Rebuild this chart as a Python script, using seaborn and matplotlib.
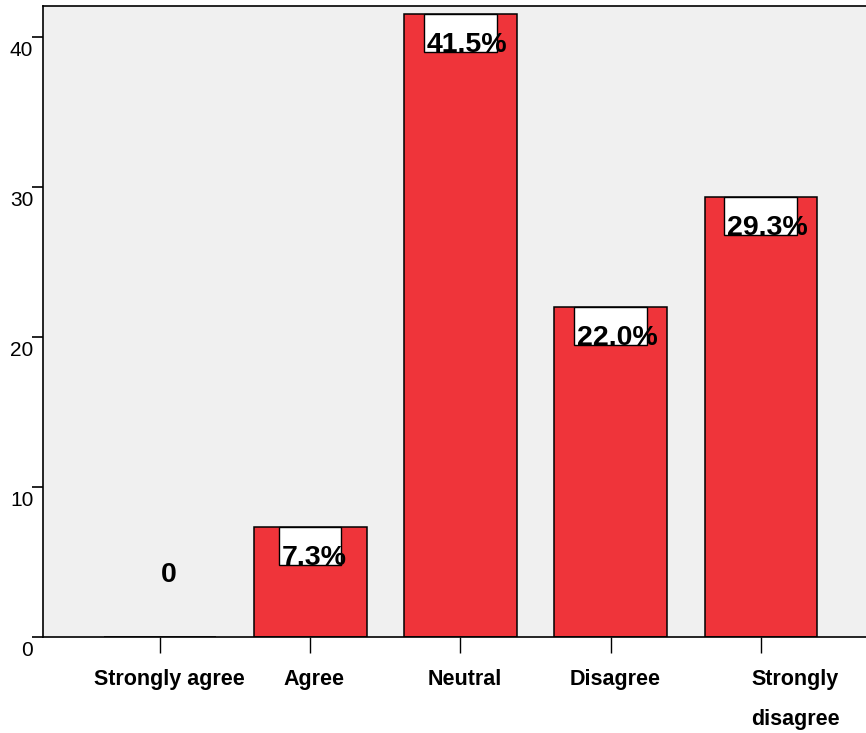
import matplotlib
matplotlib.use("Agg")
import matplotlib.pyplot as plt
import matplotlib.transforms as mtransforms
from matplotlib.patches import Rectangle
import seaborn as sns
import pandas as pd

# Survey responses (percent of respondents)
categories = ["Strongly agree", "Agree", "Neutral", "Disagree", "Strongly disagree"]
tick_labels = ["Strongly agree", "Agree", "Neutral", "Disagree", "Strongly\ndisagree"]
percents = [0.0, 7.3, 41.5, 22.0, 29.3]
y_ticks = [0, 10, 20, 30, 40]

BAR_RED = "#EF343A"
PANEL_GREY = "#F0F0F0"

plt.rcParams["font.family"] = ["Liberation Sans", "DejaVu Sans"]

W, H, DPI = 866, 733, 100
fig = plt.figure(figsize=(W / DPI, H / DPI), dpi=DPI)
fig.patch.set_facecolor("white")

# plot frame in pixels
left_px, right_px, top_px, bottom_px = 43, 866, 6, 636.7
ax = fig.add_axes([left_px / W, 1 - bottom_px / H,
                   (right_px - left_px) / W, (bottom_px - top_px) / H])
ax.set_facecolor(PANEL_GREY)

df = pd.DataFrame({"response": categories, "percent": percents})
sns.barplot(data=df, x="response", y="percent", order=categories,
            color=BAR_RED, saturation=1, width=0.75,
            edgecolor="black", linewidth=1.1, ax=ax)

x_lo, x_hi = -0.778, 4.699
y_hi = 42.05
ax.set_xlim(x_lo, x_hi)
ax.set_ylim(0, y_hi)

# pixels per data unit
xpu = (right_px - left_px) / (x_hi - x_lo)
ypu = (bottom_px - top_px) / y_hi

# value labels: white box hanging from the bar top, bold text overflowing it
for i, v in enumerate(percents):
    if v == 0:
        ax.annotate("0", xy=(i, v), xytext=(9, 62), textcoords="offset pixels",
                    ha="center", va="center", fontsize=20.5, fontweight="bold")
        continue
    text = f"{v:.1f}%"
    box_w = (11 * len(text) + 18) / xpu
    box_h = 38 / ypu
    ax.add_patch(Rectangle((i - box_w / 2, v - box_h), box_w, box_h,
                           facecolor="white", edgecolor="black",
                           linewidth=1.0, zorder=3))
    ax.text(i - box_w / 2 + 3 / xpu, v - box_h, text, ha="left", va="baseline",
            fontsize=20.5, fontweight="bold", zorder=4)

# axes styling
for side in ("left", "top", "bottom"):
    ax.spines[side].set_color("black")
    ax.spines[side].set_linewidth(1.2)
ax.spines["right"].set_visible(False)

ax.set_xlabel("")
ax.set_ylabel("")

ax.set_yticks(y_ticks)
ax.set_yticklabels([str(t) for t in y_ticks], fontsize=15)
ax.tick_params(axis="y", direction="out", length=8, width=1.2, pad=-1)
for lab in ax.get_yticklabels():
    lab.set_va("top")
    lab.set_transform(lab.get_transform() +
                      mtransforms.ScaledTranslation(0, -4 / DPI, fig.dpi_scale_trans))

ax.set_xticks(range(len(categories)))
ax.set_xticklabels(tick_labels, fontsize=15.5, fontweight="bold")
ax.tick_params(axis="x", direction="out", length=11.5, width=1.0, pad=11.5)

label_dx = [9, 3.5, 4, 4, 34]
for lab, dx in zip(ax.get_xticklabels(), label_dx):
    lab.set_transform(lab.get_transform() +
                      mtransforms.ScaledTranslation(dx / DPI, 0, fig.dpi_scale_trans))
ax.get_xticklabels()[-1].set_linespacing(2.22)

fig.savefig("out.png", dpi=DPI)
